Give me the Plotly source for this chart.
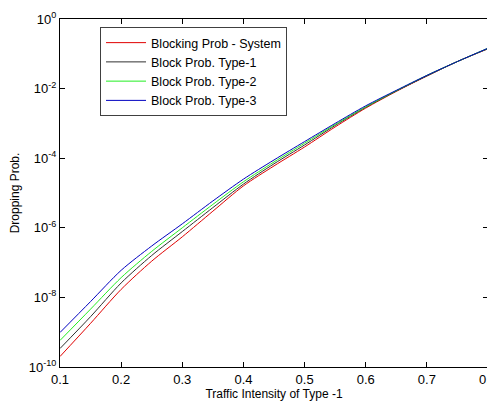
import plotly.graph_objects as go

traffic = [0.10, 0.15, 0.20, 0.25, 0.30, 0.35, 0.40, 0.45, 0.50, 0.55, 0.60, 0.65, 0.70, 0.75, 0.80]

blocking_system = [2.0e-10, 1.8e-9, 1.7e-8, 1.1e-7, 5.5e-7, 3.0e-6, 1.6e-5, 6.0e-5, 2.1e-4, 7.9e-4,
                   2.75e-3, 8.3e-3, 2.3e-2, 6.0e-2, 1.4e-1]
block_type1 = [3.4e-10, 2.8e-9, 2.6e-8, 1.6e-7, 7.8e-7, 3.8e-6, 1.8e-5, 6.9e-5, 2.4e-4, 8.7e-4,
               2.9e-3, 8.5e-3, 2.3e-2, 6.0e-2, 1.4e-1]
block_type2 = [5.8e-10, 4.6e-9, 3.7e-8, 2.1e-7, 1.0e-6, 4.7e-6, 2.1e-5, 7.8e-5, 2.7e-4, 9.3e-4,
               3.0e-3, 8.7e-3, 2.4e-2, 6.0e-2, 1.45e-1]
block_type3 = [9.8e-10, 7.6e-9, 6.0e-8, 3.0e-7, 1.3e-6, 5.9e-6, 2.5e-5, 8.9e-5, 3.0e-4, 1.0e-3,
               3.2e-3, 8.9e-3, 2.4e-2, 6.0e-2, 1.45e-1]

series_names = ["Blocking Prob - System", "Block Prob. Type-1", "Block Prob. Type-2", "Block Prob. Type-3"]
series_values = [blocking_system, block_type1, block_type2, block_type3]
series_colors = ["#e00000", "#303030", "#22ee22", "#0000c0"]

x_ticks = [0.1, 0.2, 0.3, 0.4, 0.5, 0.6, 0.7, 0.8]
x_tick_labels = ["0.1", "0.2", "0.3", "0.4", "0.5", "0.6", "0.7", "0.8"]
y_ticks = [1e-10, 1e-8, 1e-6, 1e-4, 1e-2, 1e0]
y_tick_labels = ["10<sup>-10</sup>", "10<sup>-8</sup>", "10<sup>-6</sup>", "10<sup>-4</sup>",
                 "10<sup>-2</sup>", "10<sup>0</sup>"]

FONT = "Liberation Sans, Arial, sans-serif"

fig = go.Figure()
for name, vals, col in zip(series_names, series_values, series_colors):
    fig.add_trace(go.Scatter(x=traffic, y=vals, mode="lines", name=name,
                             line=dict(color=col, width=1, shape="spline", smoothing=0.8)))

fig.update_layout(
    width=487, height=398,
    margin=dict(l=52, r=7, t=11, b=39),
    paper_bgcolor="white", plot_bgcolor="white",
    font=dict(family=FONT, size=13, color="black"),
    showlegend=True,
    legend=dict(x=0.0935, y=0.977, xanchor="left", yanchor="top",
                bgcolor="white", bordercolor="#404040", borderwidth=1,
                font=dict(family=FONT, size=12.5, color="black"),
                tracegroupgap=0, itemwidth=40),
    xaxis=dict(range=[0.1, 0.80001], tickvals=x_ticks, ticktext=x_tick_labels,
               ticks="inside", ticklen=5, tickcolor="black", ticklabeloverflow="allow",
               showline=True, linecolor="black", linewidth=1, mirror="ticks",
               showgrid=False, zeroline=False, automargin=False,
               tickfont=dict(family=FONT, size=13),
               title=dict(text="Traffic Intensity of Type -1", font=dict(family=FONT, size=12), standoff=1)),
    yaxis=dict(type="log", range=[-10, 0.0001], tickvals=y_ticks, ticktext=y_tick_labels,
               ticks="inside", ticklen=5, tickcolor="black",
               showline=True, linecolor="black", linewidth=1, mirror="ticks",
               showgrid=False, zeroline=False, automargin=False,
               tickfont=dict(family=FONT, size=13),
               title=dict(text="Dropping Prob.", font=dict(family=FONT, size=12), standoff=11)),
)

fig.write_html("out.html")
